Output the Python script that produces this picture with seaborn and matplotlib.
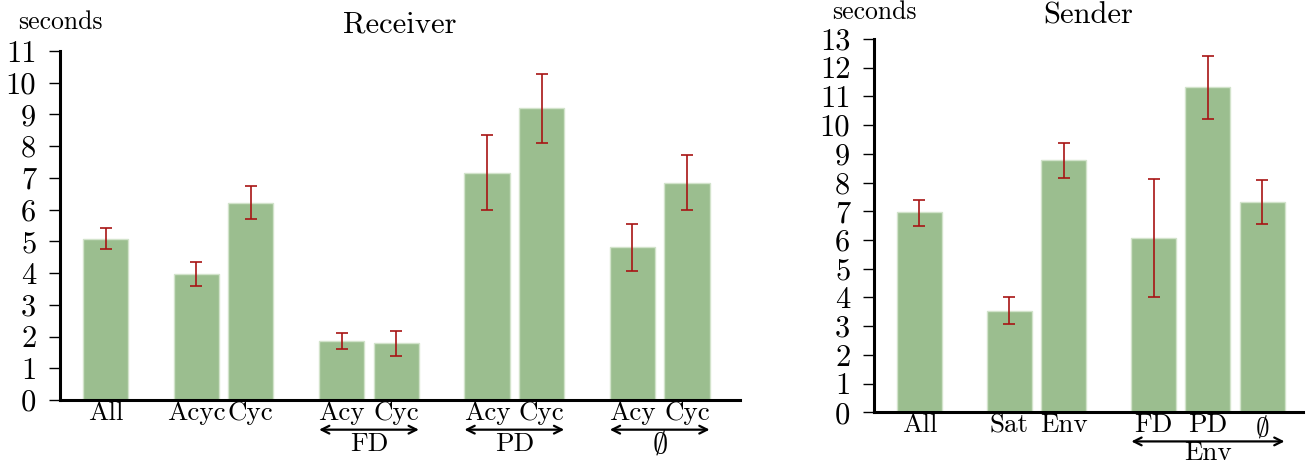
import numpy as np
import matplotlib
matplotlib.use("Agg")
import matplotlib.pyplot as plt
import seaborn as sns

# ---------------- data ----------------
recv_labels = ["All", "Acyc", "Cyc", "Acy", "Cyc", "Acy", "Cyc", "Acy", "Cyc"]
recv_groups = [[0], [1, 2], [3, 4], [5, 6], [7, 8]]
recv_means = [5.08, 3.97, 6.21, 1.85, 1.79, 7.16, 9.19, 4.82, 6.85]
recv_low = [4.76, 3.60, 5.69, 1.61, 1.40, 5.99, 8.10, 4.08, 5.99]
recv_high = [5.42, 4.36, 6.76, 2.12, 2.19, 8.36, 10.28, 5.56, 7.72]
recv_brackets = [(3, 4, "FD"), (5, 6, "PD"), (7, 8, r"$\emptyset$")]

send_labels = ["All", "Sat", "Env", "FD", "PD", r"$\emptyset$"]
send_groups = [[0], [1, 2], [3, 4, 5]]
send_means = [6.97, 3.54, 8.77, 6.08, 11.32, 7.33]
send_low = [6.50, 3.07, 8.15, 4.03, 10.23, 6.55]
send_high = [7.41, 4.03, 9.39, 8.14, 12.42, 8.09]
send_brackets = [(3, 5, "Env")]

# ---------------- style ----------------
sns.set_style("ticks", {"axes.edgecolor": "black", "xtick.color": "black",
                        "ytick.color": "black", "text.color": "black"})
plt.rcParams["font.family"] = ["cmr10", "DejaVu Serif"]
plt.rcParams["mathtext.fontset"] = "cm"
plt.rcParams["axes.formatter.use_mathtext"] = True

BAR = "#9bbe8f"
EDGE = "#d2e3cb"
ERR = "#a81414"
LABEL_FS = 19.5

fig = plt.figure(figsize=(13.06, 4.66), dpi=100)
ax1 = fig.add_axes([60 / 1306, 66 / 466, 680 / 1306, 349 / 466])
ax2 = fig.add_axes([874 / 1306, 53.7 / 466, 429 / 1306, 373.3 / 466])


def positions(groups):
    pos = []
    x = 0.0
    for gi, g in enumerate(groups):
        if gi > 0:
            x += 5 / 3
        for k, _ in enumerate(g):
            if k > 0:
                x += 1.0
            pos.append(x)
    return np.array(pos)


def panel(ax, labels, groups, means, low, high, brackets, title, ymax,
          xlim, arrow_y, lab_y, sec_y, title_pad):
    pos = positions(groups)
    sns.barplot(x=pos, y=means, native_scale=True, width=0.83, color=BAR,
                saturation=1, edgecolor=EDGE, linewidth=1, errorbar=None, ax=ax)
    means_a = np.array(means)
    yerr = [means_a - np.array(low), np.array(high) - means_a]
    ax.errorbar(pos, means_a, yerr=yerr, fmt="none", ecolor=ERR,
                elinewidth=1.2, capsize=4.5, capthick=1.2, zorder=5)
    ax.set_xlim(*xlim)
    ax.set_ylim(0, ymax)
    ax.set_yticks(range(0, ymax + 1))
    ax.set_yticklabels([str(v) for v in range(0, ymax + 1)], fontsize=22)
    ax.set_xticks(pos)
    ax.set_xticklabels(labels, fontsize=LABEL_FS)
    ax.tick_params(axis="x", length=0, pad=1)
    ax.tick_params(axis="y", length=8, width=1, pad=9, direction="out",
                   color="black")
    ax.set_xlabel("")
    ax.set_ylabel("")
    for s in ["top", "right"]:
        ax.spines[s].set_visible(False)
    for s in ["left", "bottom"]:
        ax.spines[s].set_linewidth(2.2)
        ax.spines[s].set_color("black")
    ax.set_title(title, fontsize=22, pad=title_pad)
    ax.text(0, sec_y, "seconds", transform=ax.transAxes, ha="center",
            va="baseline", fontsize=18.5)
    hw = 0.83 / 2
    for i0, i1, name in brackets:
        ax.annotate("", xy=(pos[i0] - hw, arrow_y), xytext=(pos[i1] + hw, arrow_y),
                    xycoords=("data", "axes fraction"),
                    textcoords=("data", "axes fraction"),
                    arrowprops=dict(arrowstyle="<->", lw=1.6, color="black",
                                    shrinkA=0, shrinkB=0, mutation_scale=14),
                    annotation_clip=False)
        fs = 22 if "emptyset" in name else LABEL_FS
        ax.text((pos[i0] + pos[i1]) / 2, lab_y, name, fontsize=fs,
                ha="center", va="center",
                transform=ax.get_xaxis_transform())


panel(ax1, recv_labels, recv_groups, recv_means, recv_low, recv_high,
      recv_brackets, "Receiver", 11, (-0.835, 11.64), -0.085, -0.127, 1.063, 13)
panel(ax2, send_labels, send_groups, send_means, send_low, send_high,
      send_brackets, "Sender", 13, (-0.837, 7.09), -0.078, -0.11, 1.0536, 11)

fig.savefig("out.png", dpi=100)
